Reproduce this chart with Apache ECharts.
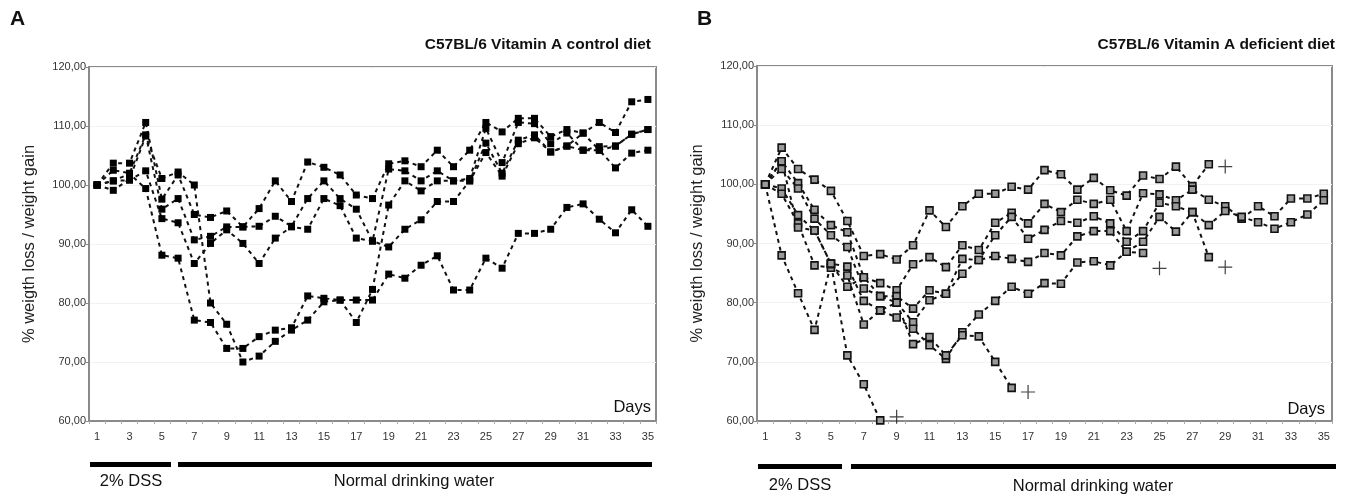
<!DOCTYPE html>
<html><head><meta charset="utf-8">
<script src="https://cdn.jsdelivr.net/npm/echarts@6/dist/echarts.min.js"></script>
<style>html,body{margin:0;padding:0;background:#fff}#c{width:1346px;height:496px}</style>
</head><body><div id="c"></div>
<script>
const days = Array.from({length: 35}, (_, i) => String(i + 1));
const yTicks = [60, 70, 80, 90, 100, 110, 120];
const titleA = 'C57BL/6 Vitamin A control diet';
const titleB = 'C57BL/6 Vitamin A deficient diet';
const yName = '% weigth loss / weight gain';

// Panel A: control diet (5 mice)
const a1 = [100,103.7,103.7,110.6,97.6,101.7,95.0,94.5,95.6,92.9,96.0,100.7,97.2,103.9,103.0,101.7,98.3,97.7,103.6,104.1,103.1,105.9,103.1,105.9,110.6,109.0,111.3,111.3,108.2,109.4,108.8,110.6,108.9,114.1,114.5];
const a2 = [100,102.5,102.0,108.5,95.9,97.7,90.7,91.3,92.9,92.9,93.0,94.7,93.0,97.7,100.7,97.7,95.9,90.5,102.7,102.4,100.7,102.4,100.7,101.1,109.6,103.8,110.6,110.4,107.0,108.8,105.9,106.5,106.6,108.6,109.4];
const a3 = [100,100.7,100.8,102.4,94.3,93.6,86.7,90.1,92.4,90.1,86.7,91.0,92.9,92.5,97.7,96.5,91.0,90.5,89.5,92.5,94.1,97.2,97.2,100.7,107.1,102.0,107.6,108.5,105.6,106.6,105.9,105.9,102.9,105.4,105.9];
const a4 = [100,99.1,101.0,108.3,101.1,102.2,100.0,80.0,76.4,70.0,71.0,73.5,75.4,77.1,80.2,80.5,76.7,82.3,96.6,100.7,99.0,100.7,100.7,100.7,105.5,101.5,107.0,108.0,105.6,106.6,108.8,105.9,106.6,108.6,109.4];
const a5 = [100,100.7,101.9,99.4,88.1,87.6,77.1,76.7,72.3,72.3,74.3,75.4,75.8,81.2,80.8,80.5,80.5,80.5,84.9,84.2,86.4,88.0,82.2,82.2,87.6,85.9,91.8,91.8,92.5,96.2,96.8,94.2,91.9,95.8,93.0];

// Panel B: vitamin A deficient diet (7 mice)
const b1 = [100,106.2,102.6,100.8,98.9,93.8,87.9,88.2,87.3,89.7,95.6,92.8,96.3,98.4,98.4,99.6,99.1,102.4,101.7,99.1,101.1,99.0,98.1,101.5,100.9,103.0,99.7,103.4];
const b2 = [100,103.9,100.2,95.7,93.1,91.9,84.3,83.3,82.1,86.5,87.7,86.0,89.7,88.9,93.5,95.2,93.4,96.7,95.3,97.4,96.7,97.4,92.1,98.5,98.3,97.3,99.1,97.4,96.3,94.2,96.3,94.6,97.6,97.6,98.4];
const b3 = [100,102.6,99.3,94.2,91.4,89.4,82.4,81.1,81.1,79.0,82.1,81.5,87.4,87.2,91.4,94.5,90.8,92.3,93.8,93.5,94.6,93.4,90.3,92.1,96.9,96.3,95.3,93.1,95.5,94.5,93.6,92.5,93.6,94.9,97.3];
const b4 = [100,99.3,94.8,92.2,86.6,86.1,80.3,78.7,80.0,76.7,80.4,81.5,84.9,87.2,87.9,87.4,86.9,88.4,88.0,91.2,92.1,92.1,88.6,90.3,94.5,92.0,95.3,87.7];
const b5 = [100,98.4,93.4,86.3,85.9,84.6,76.3,78.7,77.5,75.6,72.8,70.5,75.0,78.0,80.3,82.7,81.5,83.3,83.2,86.8,87.0,86.3,88.6,88.4];
const b6 = [100,88.0,81.6,75.4,86.5,82.7,84.3,81.1,80.0,73.0,74.2,71.1,74.5,74.3,70.0,65.6];
const b7 = [100,103.9,92.7,92.2,86.6,71.1,66.2,60.1];
// deaths (+): [day, value]
const deathsB = [['9', 60.7], ['17', 64.9], ['25', 85.8], ['29', 103.0], ['29', 86.0]];

const fmt = v => v.toFixed(2).replace('.', ',');
const font = 'Liberation Sans, Arial, sans-serif';
const chart = echarts.init(document.getElementById('c'), null, {renderer: 'canvas'});

const grids = [
  {left: 89, top: 67, width: 567, height: 354},
  {left: 757, top: 66, width: 575, height: 355}
];
function xAx(i) {
  return {type: 'category', gridIndex: i, data: days, boundaryGap: true,
    axisLine: {lineStyle: {color: '#8a8a8a', width: 2}},
    axisTick: {show: true, interval: 0, length: 3, lineStyle: {color: '#aaa'}},
    axisLabel: {interval: 1, color: '#333', fontSize: 11, fontFamily: font, margin: 10},
    splitLine: {show: false}};
}
function yAx(i) {
  return {type: 'value', gridIndex: i, min: yTicks[0], max: yTicks[yTicks.length-1], interval: 10,
    name: yName, nameLocation: 'middle', nameGap: 51, nameRotate: 90,
    nameTextStyle: {fontSize: 16.5, color: '#222', fontFamily: font},
    axisLine: {show: true, lineStyle: {color: '#8a8a8a', width: 2}},
    axisTick: {show: true, length: 3, lineStyle: {color: '#8a8a8a'}},
    axisLabel: {formatter: fmt, color: '#333', fontSize: 11, fontFamily: font, margin: 3},
    splitLine: {show: true, lineStyle: {color: '#f2f2f2', width: 1}}};
}
function lineSeries(data, gi, filled) {
  return {type: 'line', xAxisIndex: gi, yAxisIndex: gi, data: data, connectNulls: false,
    symbol: 'rect', symbolSize: filled ? 7 : 7, showSymbol: true, animation: false,
    lineStyle: {color: '#111', width: 2, type: [4, 4]},
    itemStyle: filled ? {color: '#000'} : {color: '#9a9a9a', borderColor: '#111', borderWidth: 1.6},
    z: 3};
}
const series = [];
[a1, a2, a3, a4, a5].forEach(d => series.push(lineSeries(d, 0, true)));
[b1, b2, b3, b4, b5, b6, b7].forEach(d => series.push(lineSeries(d, 1, false)));
series.push({type: 'scatter', xAxisIndex: 1, yAxisIndex: 1, data: deathsB, animation: false,
  symbol: 'path://M6.4,0h1.2v6.4h6.4v1.2h-6.4v6.4h-1.2v-6.4h-6.4v-1.2h6.4z', symbolSize: 14,
  itemStyle: {color: '#111'}, z: 4});

const txt = (x, y, s, size, weight, align) => ({type: 'text', x: x, y: y,
  style: {text: s, fontSize: size, fontWeight: weight || 'normal', fill: '#111', fontFamily: font,
    textAlign: align || 'left', textVerticalAlign: 'middle'}});
const bar = (x1, x2, y) => ({type: 'rect', shape: {x: x1, y: y, width: x2 - x1, height: 5}, style: {fill: '#000'}});

chart.setOption({
  animation: false,
  grid: grids.map(g => Object.assign({show: true, borderColor: '#8a8a8a', borderWidth: 2, backgroundColor: '#fff'}, g)),
  xAxis: [xAx(0), xAx(1)],
  yAxis: [yAx(0), yAx(1)],
  series: series,
  graphic: [
    txt(10, 19, 'A', 21, 'bold'),
    txt(697, 19, 'B', 21, 'bold'),
    txt(651, 45, titleA, 15.5, 'bold', 'right'),
    txt(1335, 45, titleB, 15.5, 'bold', 'right'),
    txt(651, 407, 'Days', 16.5, 'normal', 'right'),
    txt(1325, 409, 'Days', 16.5, 'normal', 'right'),
    bar(90, 171, 462), bar(178, 652, 462),
    bar(758, 842, 464), bar(851, 1336, 464),
    txt(131, 481, '2% DSS', 16.5, 'normal', 'center'),
    txt(414, 481, 'Normal drinking water', 16.5, 'normal', 'center'),
    txt(800, 485, '2% DSS', 16.5, 'normal', 'center'),
    txt(1093, 486, 'Normal drinking water', 16.5, 'normal', 'center')
  ]
});
</script></body></html>
